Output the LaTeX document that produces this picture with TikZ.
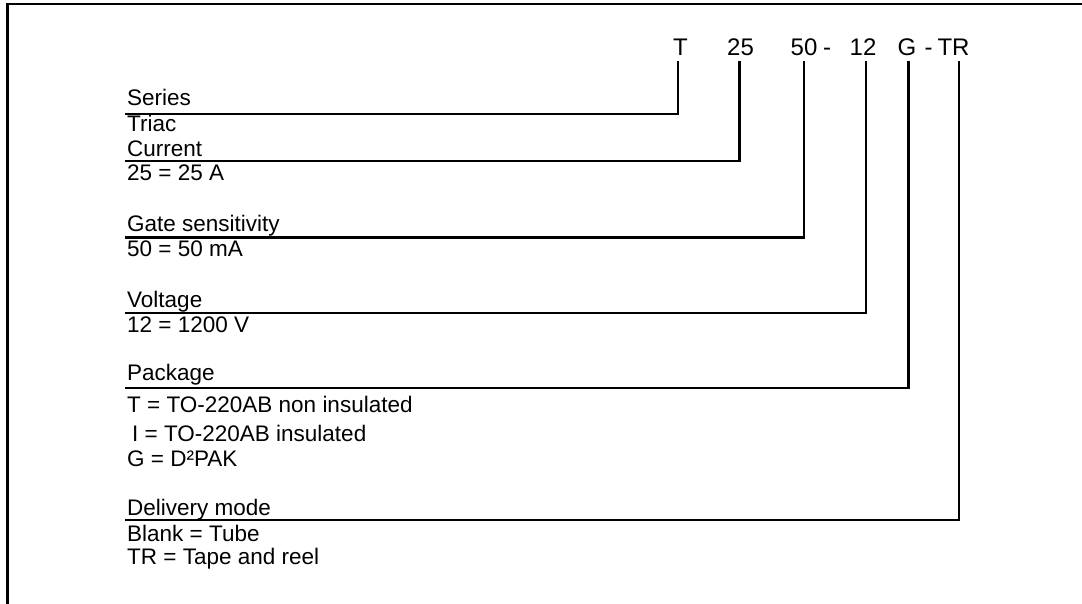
\documentclass[tikz,border=0pt]{standalone}
\usepackage{fontspec}
\setmainfont{Liberation Sans}
\begin{document}
\begin{tikzpicture}[x=1pt,y=-1pt,
  hdr/.style={anchor=base,inner sep=0pt,font=\fontsize{24}{28}\selectfont},
  lbl/.style={anchor=base west,inner sep=0pt,font=\fontsize{22.5}{26}\selectfont},
  conn/.style={line width=2.3pt,line cap=rect},
  frame/.style={line width=2.3pt}]
\useasboundingbox (0,0) rectangle (1082,604);
% frame (top and left edges)
\coordinate (fA) at (7.5,604);
\coordinate (fB) at (7.5,4);
\coordinate (fC) at (1082,4);
\draw[frame] (fA) -- (fB) -- (fC);
% header
\node[hdr] (hT) at (680.5,56) {T};
\node[hdr] (h25) at (740.5,56) {25};
\node[hdr] (h50) at (804,56) {50};
\node[hdr] (hd1) at (827,56) {-};
\node[hdr] (h12) at (863,56) {12};
\node[hdr] (hG) at (907,56) {G};
\node[hdr] (hd2) at (928.5,56) {-};
\node[hdr] (hTR) at (953.5,56) {TR};
% connector tops
\coordinate (tT) at (678,62);
\coordinate (t25) at (739.5,62);
\coordinate (t50) at (804,62);
\coordinate (t12) at (866,62);
\coordinate (tG) at (908.5,62);
\coordinate (tTR) at (959,62);
% line left ends
\coordinate (eT) at (126,114);
\coordinate (e25) at (126,161);
\coordinate (e50) at (126,237.5);
\coordinate (e12) at (126,313);
\coordinate (eG) at (126,388);
\coordinate (eTR) at (126,520);
% labels
\node[lbl] (lSer) at (127,106) {Series};
\node[lbl] (lTri) at (127,132) {Triac};
\node[lbl] (lCur) at (127,157) {Current};
\node[lbl] (lCurV) at (127,181) {25 = 25 A};
\node[lbl] (lGate) at (127,232) {Gate sensitivity};
\node[lbl] (lGateV) at (127,257) {50 = 50 mA};
\node[lbl] (lVol) at (127,307) {Voltage};
\node[lbl] (lVolV) at (127,332) {12 = 1200 V};
\node[lbl] (lPkg) at (127,380) {Package};
\node[lbl] (lPkgT) at (127,412.5) {T = TO-220AB non insulated};
\node[lbl] (lPkgI) at (132,441) {I = TO-220AB insulated};
\node[lbl] (lPkgG) at (127,466) {G = D²PAK};
\node[lbl] (lDel) at (127,515) {Delivery mode};
\node[lbl] (lDelB) at (127,541) {Blank = Tube};
\node[lbl] (lDelT) at (127,564.5) {TR = Tape and reel};
% connectors
\draw[conn] (tT) |- (eT);
\draw[conn] (t25) |- (e25);
\draw[conn] (t50) |- (e50);
\draw[conn] (t12) |- (e12);
\draw[conn] (tG) |- (eG);
\draw[conn] (tTR) |- (eTR);
\end{tikzpicture}
\end{document}
